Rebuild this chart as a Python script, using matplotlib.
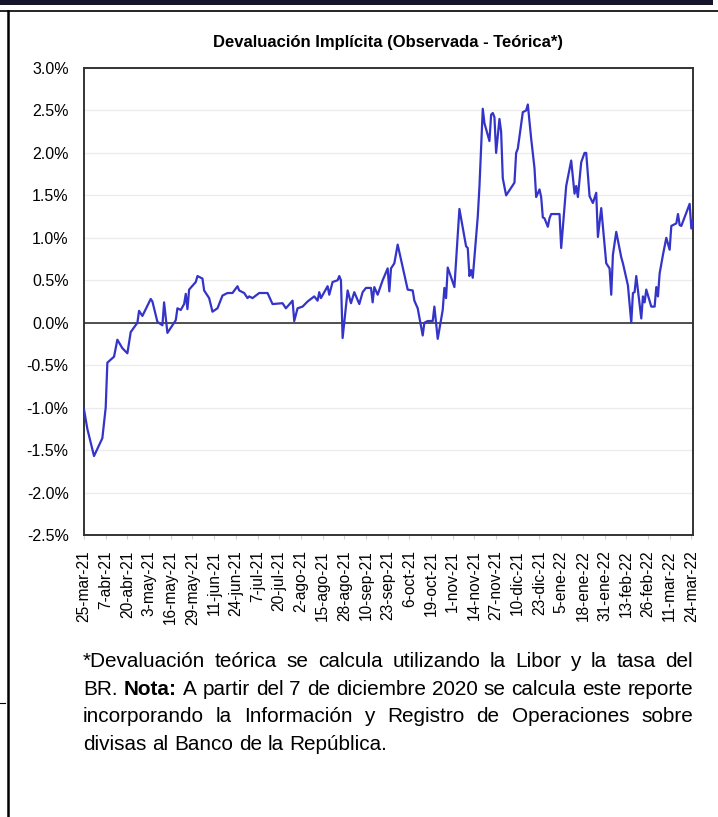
import numpy as np
import pandas as pd
import matplotlib
matplotlib.use("Agg")
import matplotlib.pyplot as plt
import matplotlib.dates as mdates
from matplotlib.ticker import PercentFormatter, FixedLocator
from matplotlib.patches import Rectangle
from matplotlib.lines import Line2D

plt.rcParams['font.family'] = ['Liberation Sans', 'DejaVu Sans']
plt.rcParams['axes.unicode_minus'] = False

# Devaluacion implicita diaria (%)
fechas = [
    "2021-03-25", "2021-03-27", "2021-03-31", "2021-04-05", "2021-04-07", "2021-04-08",
    "2021-04-12", "2021-04-14", "2021-04-17", "2021-04-20", "2021-04-22", "2021-04-26",
    "2021-04-27", "2021-04-29", "2021-05-04", "2021-05-05", "2021-05-08", "2021-05-11",
    "2021-05-12", "2021-05-14", "2021-05-19", "2021-05-20", "2021-05-22", "2021-05-24",
    "2021-05-25", "2021-05-26", "2021-05-27", "2021-05-31", "2021-06-01", "2021-06-04",
    "2021-06-05", "2021-06-08", "2021-06-10", "2021-06-13", "2021-06-16", "2021-06-19",
    "2021-06-22", "2021-06-25", "2021-06-26", "2021-06-29", "2021-07-01", "2021-07-02",
    "2021-07-04", "2021-07-08", "2021-07-13", "2021-07-16", "2021-07-22", "2021-07-24",
    "2021-07-28", "2021-07-29", "2021-07-31", "2021-08-03", "2021-08-06", "2021-08-10",
    "2021-08-12", "2021-08-13", "2021-08-14", "2021-08-18", "2021-08-19", "2021-08-21",
    "2021-08-24", "2021-08-25", "2021-08-26", "2021-08-27", "2021-08-30", "2021-09-01",
    "2021-09-03", "2021-09-06", "2021-09-08", "2021-09-10", "2021-09-13", "2021-09-14",
    "2021-09-15", "2021-09-17", "2021-09-20", "2021-09-23", "2021-09-24", "2021-09-25",
    "2021-09-27", "2021-09-29", "2021-10-05", "2021-10-08", "2021-10-09", "2021-10-11",
    "2021-10-14", "2021-10-15", "2021-10-17", "2021-10-20", "2021-10-21", "2021-10-23",
    "2021-10-26", "2021-10-27", "2021-10-28", "2021-10-29", "2021-11-02", "2021-11-05",
    "2021-11-09", "2021-11-10", "2021-11-11", "2021-11-12", "2021-11-13", "2021-11-16",
    "2021-11-17", "2021-11-19", "2021-11-20", "2021-11-23", "2021-11-24", "2021-11-25",
    "2021-11-26", "2021-11-27", "2021-11-29", "2021-11-30", "2021-12-01", "2021-12-03",
    "2021-12-06", "2021-12-08", "2021-12-09", "2021-12-10", "2021-12-13", "2021-12-15",
    "2021-12-16", "2021-12-18", "2021-12-20", "2021-12-21", "2021-12-23", "2021-12-24",
    "2021-12-25", "2021-12-26", "2021-12-28", "2021-12-29", "2021-12-30", "2022-01-04",
    "2022-01-05", "2022-01-08", "2022-01-11", "2022-01-13", "2022-01-14", "2022-01-15",
    "2022-01-17", "2022-01-19", "2022-01-20", "2022-01-22", "2022-01-24", "2022-01-26",
    "2022-01-27", "2022-01-29", "2022-02-01", "2022-02-03", "2022-02-04", "2022-02-05",
    "2022-02-07", "2022-02-10", "2022-02-11", "2022-02-14", "2022-02-16", "2022-02-17",
    "2022-02-18", "2022-02-19", "2022-02-22", "2022-02-23", "2022-02-24", "2022-02-25",
    "2022-02-28", "2022-03-02", "2022-03-03", "2022-03-04", "2022-03-05", "2022-03-07",
    "2022-03-09", "2022-03-11", "2022-03-12", "2022-03-15", "2022-03-16", "2022-03-17",
    "2022-03-18", "2022-03-23", "2022-03-24", "2022-03-25",
]
devaluacion = [
    -1.02, -1.25, -1.57, -1.36, -1.00, -0.47,
    -0.40, -0.20, -0.30, -0.36, -0.11, 0.00,
    0.14, 0.08, 0.28, 0.25, 0.01, -0.03,
    0.24, -0.12, 0.03, 0.17, 0.15, 0.22,
    0.34, 0.16, 0.39, 0.48, 0.55, 0.52,
    0.38, 0.29, 0.13, 0.17, 0.32, 0.35,
    0.35, 0.43, 0.38, 0.35, 0.29, 0.31,
    0.29, 0.35, 0.35, 0.22, 0.23, 0.17,
    0.26, 0.02, 0.17, 0.19, 0.25, 0.31,
    0.26, 0.36, 0.29, 0.43, 0.33, 0.48,
    0.50, 0.55, 0.50, -0.18, 0.38, 0.23,
    0.36, 0.22, 0.36, 0.41, 0.41, 0.24,
    0.42, 0.33, 0.50, 0.64, 0.37, 0.64,
    0.70, 0.92, 0.39, 0.38, 0.26, 0.17,
    -0.15, 0.00, 0.02, 0.02, 0.19, -0.19,
    0.15, 0.41, 0.29, 0.65, 0.42, 1.34,
    0.90, 0.88, 0.55, 0.62, 0.53, 1.25,
    1.60, 2.52, 2.35, 2.14, 2.45, 2.47,
    2.42, 2.00, 2.40, 2.25, 1.70, 1.50,
    1.59, 1.65, 2.00, 2.05, 2.48, 2.50,
    2.57, 2.17, 1.82, 1.48, 1.57, 1.48,
    1.24, 1.23, 1.13, 1.23, 1.28, 1.28,
    0.88, 1.61, 1.91, 1.52, 1.61, 1.48,
    1.89, 2.00, 2.00, 1.49, 1.41, 1.53,
    1.01, 1.35, 0.70, 0.64, 0.33, 0.80,
    1.07, 0.77, 0.70, 0.44, 0.00, 0.35,
    0.36, 0.55, 0.05, 0.31, 0.24, 0.39,
    0.19, 0.19, 0.42, 0.31, 0.58, 0.80,
    1.00, 0.86, 1.14, 1.17, 1.28, 1.15,
    1.14, 1.40, 1.11, 1.21,
]

etiquetas_x = [
    "25-mar-21", "7-abr-21", "20-abr-21", "3-may-21", "16-may-21", "29-may-21",
    "11-jun-21", "24-jun-21", "7-jul-21", "20-jul-21", "2-ago-21", "15-ago-21",
    "28-ago-21", "10-sep-21", "23-sep-21", "6-oct-21", "19-oct-21", "1-nov-21",
    "14-nov-21", "27-nov-21", "10-dic-21", "23-dic-21", "5-ene-22", "18-ene-22",
    "31-ene-22", "13-feb-22", "26-feb-22", "11-mar-22", "24-mar-22",
]

titulo = "Devaluación Implícita (Observada - Teórica*)"

nota = [
    [("*Devaluación", False), ("teórica", False), ("se", False), ("calcula", False),
     ("utilizando", False), ("la", False), ("Libor", False), ("y", False), ("la", False),
     ("tasa", False), ("del", False)],
    [("BR.", False), ("Nota:", True), ("A", False), ("partir", False), ("del", False),
     ("7", False), ("de", False), ("diciembre", False), ("2020", False), ("se", False),
     ("calcula", False), ("este", False), ("reporte", False)],
    [("incorporando", False), ("la", False), ("Información", False), ("y", False),
     ("Registro", False), ("de", False), ("Operaciones", False), ("sobre", False)],
    [("divisas", False), ("al", False), ("Banco", False), ("de", False), ("la", False),
     ("República.", False)],
]

W, H = 718, 817
fig = plt.figure(figsize=(W / 100, H / 100), dpi=100)
fig.patch.set_facecolor("white")


def fx(px):
    return px / W


def fy(py):
    return 1 - py / H


# marco de la pagina
fig.add_artist(Rectangle((0, fy(4.5)), fx(713), 4.5 / H, transform=fig.transFigure,
                         facecolor="#14142a", edgecolor="none"))
fig.add_artist(Line2D([0, 1], [fy(11), fy(11)], transform=fig.transFigure,
                      color="black", lw=1.2))
fig.add_artist(Line2D([fx(8), fx(8)], [fy(11), 0], transform=fig.transFigure,
                      color="black", lw=1.8))
fig.add_artist(Line2D([0, fx(5)], [fy(703), fy(703)], transform=fig.transFigure,
                      color="black", lw=0.8))

ax = fig.add_axes([fx(84), fy(535), fx(693) - fx(84), (535 - 68) / H])

x = pd.to_datetime(fechas)
ax.plot(x, devaluacion, color="#3434c9", lw=1.6, zorder=3)
ax.axhline(0, color="#333333", lw=1.2, zorder=2)

ax.set_ylim(-2.5, 3.0)
ax.set_yticks(np.arange(-2.5, 3.01, 0.5))
ax.yaxis.set_major_formatter(PercentFormatter(xmax=100, decimals=1))
ax.grid(axis="y", color="#ebebeb", lw=0.9)
ax.set_axisbelow(True)

inicio = pd.Timestamp("2021-03-25")
ax.set_xlim(inicio, pd.Timestamp("2022-03-25"))
pos_ticks = pd.date_range(inicio, periods=len(etiquetas_x), freq="13D")
ax.xaxis.set_major_locator(FixedLocator(mdates.date2num(pos_ticks)))
ax.set_xticklabels(etiquetas_x, rotation=90, fontsize=11.2)

ax.tick_params(axis="y", length=0, pad=11, labelsize=11.5, labelcolor="black")
ax.tick_params(axis="x", length=3, color="#d0d0d0", pad=8, labelcolor="black")
for s in ax.spines.values():
    s.set_color("#333333")
    s.set_linewidth(1.4)

fig.text(fx(388), fy(43), titulo, ha="center", va="center",
         fontsize=12, fontweight="bold")

# nota al pie, justificada entre los bordes del grafico
renderer = fig.canvas.get_renderer()
x0, x1 = 83, 693


def medir(palabra, negrita, size):
    t = fig.text(0, 0, palabra, fontsize=size,
                 fontweight="bold" if negrita else "normal")
    w = t.get_window_extent(renderer).width
    t.remove()
    return w


prueba = 15.0
esp = 0.278 * prueba * 100 / 72
nat = sum(medir(p, b, prueba) for p, b in nota[1]) + esp * (len(nota[1]) - 1)
size_nota = prueba * (x1 - x0) / nat

bases = [667, 695, 722, 750]
for i, (linea, yb) in enumerate(zip(nota, bases)):
    anchos = [medir(p, b, size_nota) for p, b in linea]
    if i < len(nota) - 1:
        hueco = ((x1 - x0) - sum(anchos)) / (len(linea) - 1)
    else:
        hueco = 0.278 * size_nota * 100 / 72
    xp = x0
    for (p, b), w in zip(linea, anchos):
        fig.text(fx(xp), fy(yb), p, fontsize=size_nota, va="baseline",
                 fontweight="bold" if b else "normal")
        xp += w + hueco

fig.savefig("out.png", dpi=100, facecolor="white")
